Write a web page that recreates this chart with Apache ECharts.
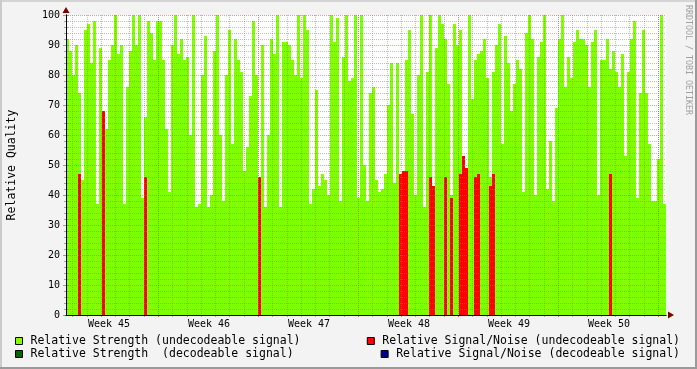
<!DOCTYPE html>
<html><head><meta charset="utf-8">
<script src="https://cdn.jsdelivr.net/npm/echarts@6/dist/echarts.min.js"></script>
<style>html,body{margin:0;padding:0;background:#f3f3f3}#c{width:697px;height:369px}</style>
</head><body><div id="c"></div>
<script>
const _ = null;
// Week labels on the time axis
const weekLabels = ['Week 45', 'Week 46', 'Week 47', 'Week 48', 'Week 49', 'Week 50'];
// Relative Strength (undecodeable signal), one sample per step
const strengthUndec = [
  92, 88, 80, 90, 74, 45, 95, 97, 84, 98,
  37, 89, 52, 62, 85, 90, 100, 87, 90, 37,
  76, 88, 100, 90, 100, 39, 66, 98, 94, 85,
  98, 98, 85, 62, 41, 90, 100, 87, 92, 85,
  86, 60, 100, 36, 37, 80, 93, 36, 40, 88,
  100, 60, 38, 80, 95, 57, 92, 85, 81, 48,
  56, 73, 98, 80, 46, 90, 36, 60, 92, 87,
  100, 36, 91, 91, 90, 85, 80, 100, 79, 100,
  95, 37, 42, 75, 43, 47, 45, 40, 100, 91,
  99, 38, 86, 100, 78, 79, 100, 39, 100, 50,
  38, 74, 76, 45, 41, 42, 47, 70, 84, 44,
  84, 47, 48, 85, 95, 67, 40, 80, 100, 36,
  81, 100, 43, 89, 100, 97, 92, 77, 40, 97,
  90, 95, 53, 49, 100, 72, 85, 87, 88, 92,
  79, 46, 81, 90, 97, 57, 93, 84, 68, 77,
  85, 82, 41, 94, 100, 92, 40, 86, 91, 100,
  42, 58, 38, 69, 92, 100, 76, 86, 79, 91,
  95, 92, 92, 90, 76, 91, 95, 40, 85, 85,
  92, 82, 88, 81, 76, 87, 53, 81, 92, 98,
  39, 74, 95, 74, 57, 38, 38, 52, 100, 37
];
// Relative Signal/Noise (undecodeable signal)
const snrUndec = [
  _, _, _, _, 47, _, _, _, _, _,
  _, _, 68, _, _, _, _, _, _, _,
  _, _, _, _, _, _, 46, _, _, _,
  _, _, _, _, _, _, _, _, _, _,
  _, _, _, _, _, _, _, _, _, _,
  _, _, _, _, _, _, _, _, _, _,
  _, _, _, _, 46, _, _, _, _, _,
  _, _, _, _, _, _, _, _, _, _,
  _, _, _, _, _, _, _, _, _, _,
  _, _, _, _, _, _, _, _, _, _,
  _, _, _, _, _, _, _, _, _, _,
  _, 47, 48, 48, _, _, _, _, _, _,
  _, 46, 43, _, _, _, 46, _, 39, _,
  _, 47, 53, 49, _, _, 46, 47, _, _,
  _, 43, 47, _, _, _, _, _, _, _,
  _, _, _, _, _, _, _, _, _, _,
  _, _, _, _, _, _, _, _, _, _,
  _, _, _, _, _, _, _, _, _, _,
  _, 47, _, _, _, _, _, _, _, _,
  _, _, _, _, _, _, _, _, _, _
];
// decodeable signal series (no samples in this period)
const strengthDec = [];
const snrDec = [];

const names = [
  'Relative Strength (undecodeable signal)',
  'Relative Strength  (decodeable signal)',
  'Relative Signal/Noise (undecodeable signal)',
  'Relative Signal/Noise (decodeable signal)'
];
const colors = ['#80ff00', '#006600', '#ff0000', '#000090'];
const categories = strengthUndec.map((_, i) => i);

const FONT = 'DejaVu Sans Mono';
const GRID_C = 'rgba(130,130,130,0.5)';
const MGRID_C = 'rgba(229,90,90,0.6)';
const AXIS_C = '#000';
const ARROW_C = '#7f0000';

const chart = echarts.init(document.getElementById('c'), null, {renderer: 'canvas'});

const legendCommon = {
  orient: 'horizontal', padding: 0, itemWidth: 7, itemHeight: 7, icon: 'rect',
  itemStyle: {borderColor: '#000', borderWidth: 1},
  textStyle: {fontFamily: FONT, fontSize: 11.5, color: '#000', padding: [0, 0, 0, 3]},
  selectedMode: false
};

const hiddenY = (g) => ({type: 'value', gridIndex: g, show: false, min: 0, max: 1});

const barSeries = [strengthUndec, strengthDec, snrUndec, snrDec].map((d, k) => ({
  type: 'bar', name: names[k], xAxisIndex: 0, yAxisIndex: 0, data: d,
  barCategoryGap: '0%', barGap: '-100%', silent: true,
  itemStyle: {color: colors[k]}
}));

chart.setOption({
  animation: false,
  backgroundColor: '#f3f3f3',
  grid: [
    {left: 66, top: 15, width: 600, height: 300, show: true, backgroundColor: '#ffffff', borderWidth: 0, outerBoundsMode: 'none'},
    {left: 72.57, top: 15, width: 585.72, height: 300, outerBoundsMode: 'none'},
    {left: 158.29, top: 15, width: 500, height: 300, outerBoundsMode: 'none'},
    {left: 109, top: 15, width: 500, height: 300, outerBoundsMode: 'none'}
  ],
  xAxis: [
    {type: 'category', gridIndex: 0, position: 'bottom', data: categories, boundaryGap: true, z: 4,
     axisLine: {show: true, onZero: false, lineStyle: {color: ARROW_C, width: 1},
                symbol: ['none', 'triangle'], symbolSize: [7, 6], symbolOffset: [0, 5]},
     axisTick: {show: false}, axisLabel: {show: false}, splitLine: {show: false}},
    {type: 'value', gridIndex: 0, position: 'bottom', min: 0, max: 1, z: 5,
     axisLine: {show: true, onZero: false, lineStyle: {color: AXIS_C, width: 1}},
     axisTick: {show: false}, axisLabel: {show: false}, splitLine: {show: false}},
    // day grid
    {type: 'value', gridIndex: 1, position: 'bottom', min: 0, max: 41, interval: 1, z: 3,
     axisLine: {show: false}, axisLabel: {show: false},
     axisTick: {show: true, length: 2, lineStyle: {color: 'rgba(143,143,143,0.8)'}},
     splitLine: {show: true, lineStyle: {color: GRID_C, width: 1, type: [1, 1]}}},
    // week grid
    {type: 'value', gridIndex: 2, position: 'bottom', min: 0, max: 35, interval: 7, z: 3,
     axisLine: {show: false}, axisLabel: {show: false},
     axisTick: {show: true, length: 2, lineStyle: {color: 'rgba(229,90,90,0.9)'}},
     splitLine: {show: true, lineStyle: {color: MGRID_C, width: 1, type: [1, 1]}}},
    // week labels
    {type: 'value', gridIndex: 3, position: 'bottom', min: 0, max: 35, interval: 7, z: 3,
     axisLine: {show: false}, axisTick: {show: false}, splitLine: {show: false},
     axisLabel: {show: true, margin: 4, fontFamily: FONT, fontSize: 10, color: '#000',
                 showMinLabel: true, showMaxLabel: true,
                 formatter: (v) => weekLabels[Math.round(v / 7)] || ''}}
  ],
  yAxis: [
    {type: 'value', gridIndex: 0, position: 'left', min: 0, max: 100, interval: 10, z: 3,
     name: 'Relative Quality', nameLocation: 'middle', nameGap: 48, nameRotate: 90,
     nameTextStyle: {fontFamily: FONT, fontSize: 11.5, color: '#000'},
     axisLine: {show: true, onZero: false, lineStyle: {color: ARROW_C, width: 1},
                symbol: ['none', 'triangle'], symbolSize: [7, 6], symbolOffset: [0, 5]},
     axisTick: {show: true, length: 3, lineStyle: {color: 'rgba(229,90,90,0.8)'}},
     minorTick: {show: true, splitNumber: 5, length: 2, lineStyle: {color: 'rgba(143,143,143,0.8)'}},
     axisLabel: {margin: 6, fontFamily: FONT, fontSize: 10, color: '#000'},
     splitLine: {show: true, lineStyle: {color: MGRID_C, width: 1, type: [1, 1]}},
     minorSplitLine: {show: true, lineStyle: {color: GRID_C, width: 1, type: [1, 1]}}},
    {type: 'value', gridIndex: 0, position: 'right', min: 0, max: 100, interval: 10, z: 3,
     axisLine: {show: false}, axisLabel: {show: false}, splitLine: {show: false},
     axisTick: {show: true, length: 3, lineStyle: {color: 'rgba(229,90,90,0.8)'}},
     minorTick: {show: true, splitNumber: 5, length: 2, lineStyle: {color: 'rgba(143,143,143,0.8)'}}},
    {type: 'value', gridIndex: 0, position: 'left', min: 0, max: 1, z: 5,
     axisLine: {show: true, onZero: false, lineStyle: {color: AXIS_C, width: 1}},
     axisTick: {show: false}, axisLabel: {show: false}, splitLine: {show: false}},
    hiddenY(1), hiddenY(2), hiddenY(3)
  ],
  legend: [
    Object.assign({data: [names[0]], left: 15, top: 335}, legendCommon),
    Object.assign({data: [names[1]], left: 15, top: 348}, legendCommon),
    Object.assign({data: [names[2]], right: 17, top: 335}, legendCommon),
    Object.assign({data: [names[3]], right: 17, top: 348}, legendCommon)
  ],
  graphic: [
    {type: 'text', x: 688, y: 5, rotation: -Math.PI / 2, silent: true,
     style: {text: 'RRDTOOL / TOBI OETIKER', font: '8.3px "DejaVu Sans Mono"', fill: '#a0a0a0',
             align: 'left', verticalAlign: 'middle'}},
    {type: 'rect', silent: true, z: 100, shape: {x: 0, y: 0, width: 697, height: 2}, style: {fill: '#d4d4d4'}},
    {type: 'rect', silent: true, z: 100, shape: {x: 0, y: 0, width: 2, height: 369}, style: {fill: '#cbcbcb'}},
    {type: 'rect', silent: true, z: 100, shape: {x: 0, y: 367, width: 697, height: 2}, style: {fill: '#9a9a9a'}},
    {type: 'rect', silent: true, z: 100, shape: {x: 695, y: 0, width: 2, height: 369}, style: {fill: '#9a9a9a'}}
  ],
  series: barSeries
});
</script>
</body></html>
